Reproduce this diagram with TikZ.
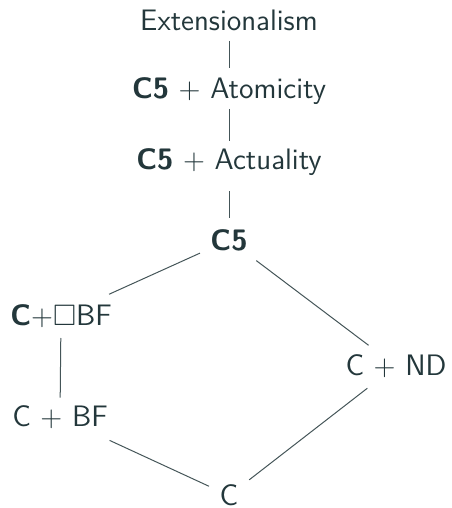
\documentclass[tikz,border=0pt]{standalone}
\usepackage{amssymb}
\definecolor{fg}{HTML}{23373B}
\begin{document}
\begin{tikzpicture}[x=0.5pt,y=-0.5pt,
  lbl/.style={inner sep=0pt,text=fg,font=\sffamily\fontsize{14.8}{17.5}\selectfont},
  link/.style={draw=fg!85!white,line width=0.5pt}]
\useasboundingbox (0,0) rectangle (451,508);
\node[lbl] (ext) at (229,20) {Extensionalism};
\node[lbl] (atom) at (229,91) {\textbf{C5} $+$ Atomicity};
\node[lbl] (act) at (229,162) {\textbf{C5} $+$ Actuality};
\node[lbl] (c5) at (229,240) {\textbf{C5}};
\node[lbl] (cbbf) at (61,316) {\textbf{C}${+}\Box$BF};
\node[lbl] (cbf) at (60,417.5) {C $+$ BF};
\node[lbl] (cnd) at (396,366) {C $+$ ND};
\node[lbl] (c) at (229,495.5) {C};
\draw[link,shorten <=10.5pt,shorten >=11.5pt] (ext.center) -- (atom.center);
\draw[link,shorten <=9pt,shorten >=10.5pt] (atom.center) -- (act.center);
\draw[link,shorten <=14.5pt,shorten >=11pt] (act.center) -- (c5.center);
\draw[link,shorten <=15.9pt,shorten >=26.4pt] (c5.center) -- (cbbf.center);
\draw[link,shorten <=17.1pt,shorten >=17.2pt] (c5.center) -- (cnd.center);
\draw[link,shorten <=11pt,shorten >=10pt] (cbbf.center) -- (cbf.center);
\draw[link,shorten <=27.3pt,shorten >=11pt] (cbf.center) -- (c.center);
\draw[link,shorten <=18.1pt,shorten >=12.8pt] (cnd.center) -- (c.center);
\end{tikzpicture}
\end{document}
